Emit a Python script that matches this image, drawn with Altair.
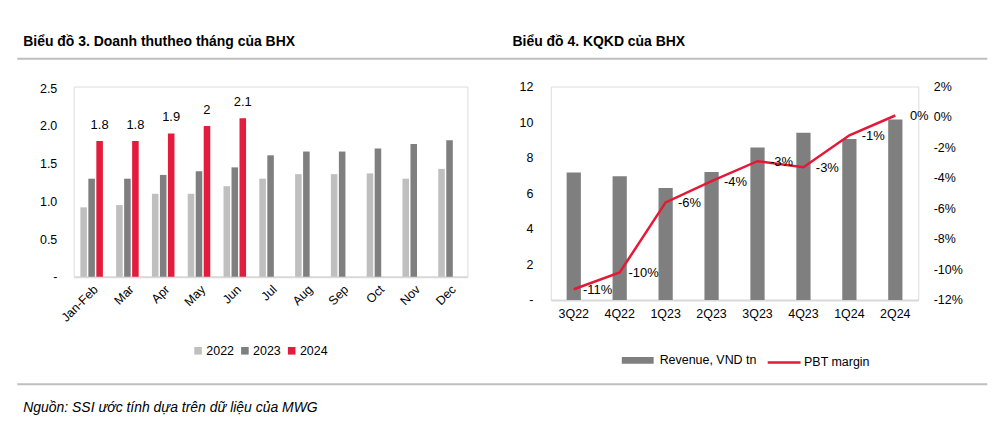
import altair as alt
import pandas as pd

# ---------------- data ----------------
months = ["Jan-Feb", "Mar", "Apr", "May", "Jun", "Jul", "Aug", "Sep", "Oct", "Nov", "Dec"]
rev_2022 = [0.92, 0.95, 1.10, 1.10, 1.20, 1.30, 1.36, 1.36, 1.37, 1.30, 1.43]
rev_2023 = [1.30, 1.30, 1.35, 1.40, 1.45, 1.61, 1.66, 1.66, 1.70, 1.76, 1.81]
rev_2024 = [1.8, 1.8, 1.9, 2.0, 2.1]
years = ["2022", "2023", "2024"]

quarters = ["3Q22", "4Q22", "1Q23", "2Q23", "3Q23", "4Q23", "1Q24", "2Q24"]
revenue_q = [7.17, 6.96, 6.30, 7.20, 8.57, 9.40, 9.05, 10.15]
pbt_margin = [-11.3, -10.2, -5.6, -4.2, -2.9, -3.3, -1.2, 0.1]  # %

title_left = "Biểu đồ 3. Doanh thutheo tháng của BHX"
title_right = "Biểu đồ 4. KQKD của BHX"
source_note = "Nguồn: SSI ước tính dựa trên dữ liệu của MWG"

FONT = "Liberation Sans Narrow, Arial Narrow, Liberation Sans, sans-serif"
C22, C23, C24 = "#BFBFBF", "#7F7F7F", "#E31B3C"
RED = "#E31937"
GRAY_BAR = "#7F7F7F"
MINUS = "\u2212"

# ---------------- tables ----------------
rows = []
for m, v in zip(months, rev_2022):
    rows.append({"month": m, "year": "2022", "value": v})
for m, v in zip(months, rev_2023):
    rows.append({"month": m, "year": "2023", "value": v})
for m, v in zip(months, rev_2024):
    rows.append({"month": m, "year": "2024", "value": v})
monthly = pd.DataFrame(rows)
labels24 = monthly[monthly["year"] == "2024"]

quarterly = pd.DataFrame({
    "quarter": quarters,
    "revenue": revenue_q,
    "margin": [m / 100 for m in pbt_margin],
    "rev_series": ["Revenue, VND tn"] * len(quarters),
    "pbt_series": ["PBT margin"] * len(quarters),
})

deco = pd.DataFrame({"t": [title_left]})
deco2 = pd.DataFrame({"t": [title_right]})
deco3 = pd.DataFrame({"t": [source_note]})
one = pd.DataFrame({"k": [0]})

# ---------------- left chart ----------------
LW, LH = 395.3, 191
xL = alt.X("month:N", sort=months, title=None,
           scale=alt.Scale(paddingInner=0.33, paddingOuter=0.165),
           axis=alt.Axis(labelAngle=315, domain=True, domainColor="#D9D9D9", domainWidth=2,
                         ticks=False, grid=False, labelFontSize=12.5, labelPadding=6,
                         labelColor="#000", labelFont=FONT))
yL_axis = alt.Axis(values=[0, 0.5, 1.0, 1.5, 2.0, 2.5], grid=False, domain=False,
                   ticks=False, labelPadding=17, labelFontSize=12.5, labelOverlap=False,
                   labelColor="#000", labelFont=FONT,
                   labelExpr="datum.value == 0 ? '-' : format(datum.value, '.1f')")
yL_scale = alt.Scale(domain=[0, 2.522], nice=False)

bars_left = alt.Chart(monthly).mark_bar().encode(
    x=xL,
    xOffset=alt.XOffset("year:N", sort=years,
                        scale=alt.Scale(paddingInner=0.18, paddingOuter=0.09)),
    y=alt.Y("value:Q", title=None, scale=yL_scale, axis=yL_axis),
    color=alt.Color("year:N", sort=years,
                    scale=alt.Scale(domain=years, range=[C22, C23, C24]),
                    legend=alt.Legend(orient="none", legendX=118.6, legendY=259,
                                      direction="horizontal", title=None,
                                      symbolType="square", symbolSize=58,
                                      symbolStrokeWidth=0, labelFontSize=12.5,
                                      labelFont=FONT, labelColor="#000",
                                      labelOffset=2, columnPadding=4)),
)

text_left = alt.Chart(labels24).mark_text(
    dy=-9, fontSize=13, font=FONT, color="#000", baseline="bottom", dx=8
).encode(
    x=xL,
    y=alt.Y("value:Q", title=None, scale=yL_scale, axis=yL_axis),
    text=alt.Text("value:Q", format=".1~f"),
)

# invisible diagonal rule fixing the page extent (8,8)-(989,417)
anchor = alt.Chart(one).mark_rule(strokeOpacity=0, strokeWidth=0.01).encode(
    x=alt.value(-64.7), x2=alt.value(916.3), y=alt.value(-77), y2=alt.value(332)
)
rule_top = alt.Chart(one).mark_rule(color="#BFBFBF", strokeWidth=2).encode(
    x=alt.value(-56.7), x2=alt.value(917.3), y=alt.value(-28)
)
rule_bot = alt.Chart(one).mark_rule(color="#BFBFBF", strokeWidth=2).encode(
    x=alt.value(-56.7), x2=alt.value(917.3), y=alt.value(299)
)
title_l = alt.Chart(deco).mark_text(
    align="left", baseline="middle", font=FONT, fontSize=14, fontWeight="bold", color="#000"
).encode(text="t:N", x=alt.value(-50.7), y=alt.value(-45))
note = alt.Chart(deco3).mark_text(
    align="left", baseline="middle", font=FONT, fontSize=14, fontStyle="italic", color="#000"
).encode(text="t:N", x=alt.value(-50.7), y=alt.value(323))

left = alt.layer(anchor, rule_top, rule_bot, title_l, note, bars_left, text_left).properties(
    width=LW, height=LH
)

# ---------------- right chart ----------------
RW, RH = 369, 214.3
xR = alt.X("quarter:N", sort=quarters, title=None,
           scale=alt.Scale(paddingInner=0.69, paddingOuter=0.345),
           axis=alt.Axis(labelAngle=0, domain=True, domainColor="#D9D9D9", domainWidth=2,
                         ticks=False, grid=False, labelFontSize=12.5, labelPadding=8,
                         labelColor="#000", labelFont=FONT))

bars_right = alt.Chart(quarterly).mark_bar().encode(
    x=xR,
    y=alt.Y("revenue:Q", title=None,
            scale=alt.Scale(domain=[0, 12], nice=False),
            axis=alt.Axis(values=[0, 2, 4, 6, 8, 10, 12], grid=False, domain=False,
                          ticks=False, labelPadding=18, labelFontSize=12.5,
                          labelOverlap=False, labelColor="#000", labelFont=FONT,
                          labelExpr="datum.value == 0 ? '-' : format(datum.value, 'd')")),
    color=alt.Color("rev_series:N",
                    scale=alt.Scale(domain=["Revenue, VND tn"], range=[GRAY_BAR]),
                    legend=alt.Legend(orient="none", legendX=71.3, legendY=259,
                                      title=None, symbolType="M-1,-0.21H1V0.21H-1Z",
                                      symbolSize=1024, symbolStrokeWidth=0,
                                      labelFontSize=12.5, labelFont=FONT,
                                      labelColor="#000", labelOffset=6)),
)

m_scale = alt.Scale(domain=[-0.12, 0.02], nice=False)
line = alt.Chart(quarterly).mark_line(strokeWidth=2.5).encode(
    x=xR,
    y=alt.Y("margin:Q", title=None, scale=m_scale,
            axis=alt.Axis(orient="right",
                          values=[-0.12, -0.10, -0.08, -0.06, -0.04, -0.02, 0, 0.02],
                          grid=False, domain=False, ticks=False, labelOverlap=False,
                          labelPadding=15, labelFontSize=12.5, labelColor="#000",
                          labelFont=FONT,
                          labelExpr=f"replace(format(datum.value, '.0%'), '{MINUS}', '-')")),
    stroke=alt.Stroke("pbt_series:N",
                      scale=alt.Scale(domain=["PBT margin"], range=[RED]),
                      legend=alt.Legend(orient="none", legendX=216.3, legendY=259,
                                        title=None, symbolType="stroke",
                                        symbolSize=1089, symbolStrokeWidth=2.5,
                                        labelFontSize=12.5, labelFont=FONT,
                                        labelColor="#000", labelOffset=2)),
)
line_text = alt.Chart(quarterly).transform_calculate(
    lbl=f"replace(format(datum.margin, '.0%'), '{MINUS}', '-')"
).mark_text(
    dx=24, dy=1, fontSize=13, font=FONT, color="#000", baseline="middle"
).encode(
    x=xR,
    y=alt.Y("margin:Q", title=None, scale=m_scale, axis=None),
    text="lbl:N",
)
title_r = alt.Chart(deco2).mark_text(
    align="left", baseline="middle", font=FONT, fontSize=14, fontWeight="bold", color="#000"
).encode(text="t:N", x=alt.value(-38.5), y=alt.value(-45))

right = alt.layer(title_r, bars_right, line, line_text).resolve_scale(y="independent").properties(
    width=RW, height=RH
)

chart = alt.hconcat(left, right, spacing=83, bounds="flush").resolve_scale(
    color="independent", stroke="independent"
).properties(padding=0).configure_view(strokeWidth=0, stroke="transparent").configure_axis(
    grid=False
).configure(font=FONT)

chart.save("out.html", embed_options={"renderer": "svg", "actions": False})
